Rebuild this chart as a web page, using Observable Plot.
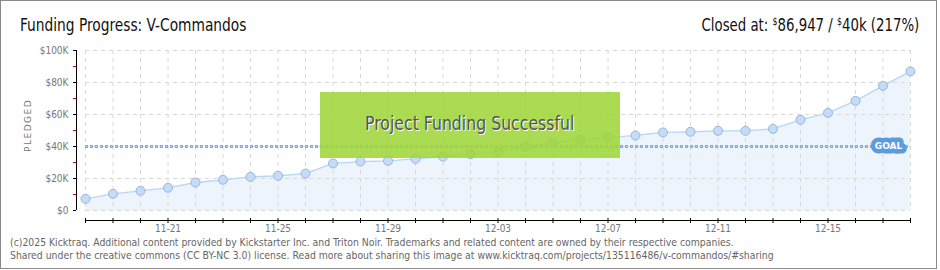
<!DOCTYPE html>
<html>
<head>
<meta charset="utf-8">
<script src="https://cdn.jsdelivr.net/npm/d3@7"></script>
<script src="https://cdn.jsdelivr.net/npm/@observablehq/plot@0.6"></script>
<style>
  html, body { margin: 0; padding: 0; background: #fff; }
  #wrap { position: relative; width: 940px; height: 270px; overflow: hidden; }
  #frame { position: absolute; left: 0; top: 0; width: 937px; height: 269px; box-sizing: border-box; border: 1px solid #8a8a8a; }
  #chart { position: absolute; left: 0; top: 0; }
  .t { position: absolute; white-space: nowrap; }
  #title { left: 20px; top: 15px; font: 17px "DejaVu Sans Condensed", sans-serif; color: #111; transform: scaleX(0.9); transform-origin: left center; }
  #closed { right: 21px; top: 15px; font: 17px "DejaVu Sans Condensed", sans-serif; color: #111; transform: scaleX(0.87); transform-origin: right center; }
  #closed .d { font-size: 10px; vertical-align: 6px; }
  #foot { left: 10px; top: 236px; font: 10.35px "DejaVu Sans Condensed", "DejaVu Sans", sans-serif; color: #666; line-height: 13px; }
  #ylab { left: 23px; top: 152px; font: 9px "DejaVu Sans", sans-serif; color: #777; letter-spacing: 1.5px; transform: rotate(-90deg); transform-origin: left top; }
  #success { left: 320px; top: 92px; width: 300px; height: 66px; background: rgba(158,214,58,0.88); display: flex; align-items: center; justify-content: center; font: 19px "DejaVu Sans Condensed", sans-serif; color: #555; text-shadow: 1px 1px 0 #fff; padding-bottom: 4px; box-sizing: border-box; }
  #success span { display: inline-block; transform: scaleX(0.92); }
</style>
</head>
<body>
<div id="wrap">
  <div id="chart"></div>
  <div id="success" class="t"><span>Project Funding Successful</span></div>
  <div id="title" class="t">Funding Progress: V-Commandos</div>
  <div id="closed" class="t">Closed at: <span class="d">$</span>86,947 / <span class="d">$</span>40k (217%)</div>
  <div id="ylab" class="t">PLEDGED</div>
  <div id="foot" class="t">(c)2025 Kicktraq. Additional content provided by Kickstarter Inc. and Triton Noir. Trademarks and related content are owned by their respective companies.<br>Shared under the creative commons (CC BY-NC 3.0) license. Read more about sharing this image at www.kicktraq.com/projects/135116486/v-commandos/#sharing</div>
  <div id="frame"></div>
</div>
<script>
// ---- data ----
const days = [
  "2015-11-18","2015-11-19","2015-11-20","2015-11-21","2015-11-22","2015-11-23","2015-11-24","2015-11-25",
  "2015-11-26","2015-11-27","2015-11-28","2015-11-29","2015-11-30","2015-12-01","2015-12-02","2015-12-03",
  "2015-12-04","2015-12-05","2015-12-06","2015-12-07","2015-12-08","2015-12-09","2015-12-10","2015-12-11",
  "2015-12-12","2015-12-13","2015-12-14","2015-12-15","2015-12-16","2015-12-17","2015-12-18"
];
const pledged = [
  7300, 10400, 12300, 14200, 17500, 19200, 21000, 21700,
  23100, 29400, 30600, 31000, 32300, 33700, 35200, 36500,
  40000, 42700, 44200, 45600, 46900, 48800, 49200, 49800,
  49800, 51000, 56700, 61000, 68500, 77900, 86947
];
const goal = 40000;
const yMajor = [0, 20000, 40000, 60000, 80000, 100000];
const yMinor = [10000, 30000, 50000, 70000, 90000];
const xLabelDays = ["2015-11-21","2015-11-25","2015-11-29","2015-12-03","2015-12-07","2015-12-11","2015-12-15"];

const parse = d3.utcParse("%Y-%m-%d");
const data = days.map((d, i) => ({date: parse(d), value: pledged[i]}));
const dayDates = days.map(parse);
const labelDates = xLabelDays.map(parse);
const fmtDay = d3.utcFormat("%m-%d");
const fmtMoney = v => v === 0 ? "$0" : "$" + (v / 1000) + "K";

const axisFont = {fontSize: 10, fontFamily: "DejaVu Sans Condensed, DejaVu Sans, sans-serif"};

const chart = Plot.plot({
  width: 940,
  height: 270,
  marginLeft: 85,
  marginRight: 30,
  marginTop: 50,
  marginBottom: 60,
  style: {background: "transparent", overflow: "visible"},
  x: {type: "utc", domain: [dayDates[0], dayDates[dayDates.length - 1]]},
  y: {domain: [0, 100000]},
  marks: [
    Plot.areaY(data, {x: "date", y: "value", fill: "#edf4fc"}),
    Plot.gridY(yMajor, {stroke: "#d8d8d8", strokeOpacity: 1, strokeDasharray: "4,4"}),
    Plot.gridX(dayDates, {stroke: "#d8d8d8", strokeOpacity: 1, strokeDasharray: "4,4"}),
    Plot.lineY(data, {x: "date", y: "value", stroke: "#b9d6f5", strokeWidth: 1.3}),
    Plot.ruleY([goal], {stroke: "#7eaee6", strokeWidth: 3, strokeDasharray: "3,2"}),
    Plot.ruleY([goal], {stroke: "#bcd6f4", strokeWidth: 1, strokeDasharray: "1,4", dx: 1}),
    Plot.dot(data, {x: "date", y: "value", r: 4.5, fill: "#c4dcf7", stroke: "#98b6da", strokeWidth: 1}),
    Plot.text(["GOAL"], {
      x: () => dayDates[dayDates.length - 1], y: () => goal, text: d => d, dx: -22,
      fill: "#fff", stroke: "#5b9be0", strokeWidth: 9, strokeLinejoin: "round", paintOrder: "stroke",
      fontSize: 9, fontWeight: "bold", fontFamily: "DejaVu Sans, sans-serif"
    }),
    // y axis
    Plot.ruleX([dayDates[0]], {dx: -9, stroke: "#000"}),
    Plot.axisY({ticks: yMajor, tickSize: 3, dx: -9, tickPadding: 5, tickFormat: fmtMoney, fill: "#777", stroke: "#000", strokeOpacity: 1, ...axisFont, label: null}),
    Plot.axisY({ticks: yMinor, tickSize: 3, dx: -9, tickFormat: () => "", stroke: "#e00000", strokeOpacity: 1, label: null}),
    // x axis
    Plot.ruleY([0], {dy: 10, stroke: "#000"}),
    Plot.axisX({ticks: dayDates, tickSize: 5, dy: 8, tickFormat: () => "", stroke: "#000", strokeOpacity: 1, label: null}),
    Plot.axisX({ticks: labelDates, tickSize: 0, dy: 14, tickPadding: 0, tickFormat: fmtDay, fill: "#777", ...axisFont, label: null})
  ]
});
document.getElementById("chart").appendChild(chart);
</script>
</body>
</html>
